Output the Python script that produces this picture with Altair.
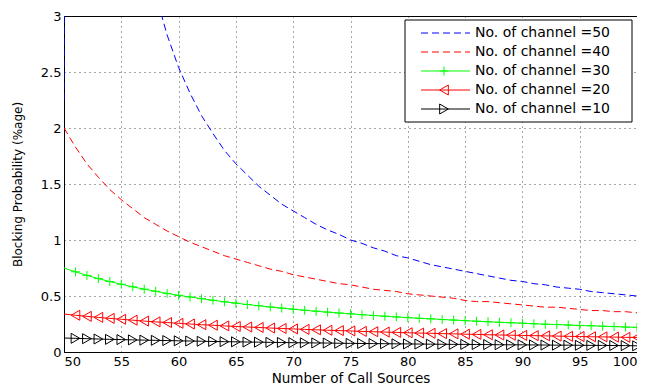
import altair as alt
import pandas as pd

x_sources = list(range(50, 101))

ch50 = [2.25, 31.1, 13.8, 8.9, 6.55, 5.19, 4.29, 3.66, 3.19, 2.83,
        2.54, 2.31, 2.11, 1.95, 1.80, 1.68, 1.58, 1.48, 1.40, 1.32,
        1.26, 1.20, 1.14, 1.09, 1.05, 1.00, 0.97, 0.93, 0.90, 0.86,
        0.84, 0.81, 0.78, 0.76, 0.74, 0.72, 0.70, 0.68, 0.66, 0.64,
        0.63, 0.61, 0.60, 0.58, 0.57, 0.56, 0.54, 0.53, 0.52, 0.51, 0.50]
ch40 = [2.00, 1.83, 1.68, 1.56, 1.45, 1.36, 1.28, 1.20, 1.14, 1.08,
        1.03, 0.98, 0.94, 0.90, 0.86, 0.83, 0.80, 0.77, 0.74, 0.72,
        0.69, 0.67, 0.65, 0.63, 0.61, 0.60, 0.58, 0.56, 0.55, 0.54,
        0.52, 0.51, 0.50, 0.49, 0.48, 0.46, 0.45, 0.45, 0.44, 0.43,
        0.42, 0.41, 0.40, 0.40, 0.39, 0.38, 0.37, 0.37, 0.36, 0.36, 0.35]
ch30 = [0.750, 0.716, 0.684, 0.655, 0.629, 0.605, 0.582, 0.561, 0.542, 0.523,
        0.506, 0.491, 0.476, 0.462, 0.448, 0.436, 0.424, 0.413, 0.402, 0.392,
        0.382, 0.373, 0.364, 0.356, 0.348, 0.341, 0.333, 0.326, 0.320, 0.313,
        0.307, 0.301, 0.296, 0.290, 0.285, 0.280, 0.275, 0.270, 0.265, 0.261,
        0.257, 0.252, 0.248, 0.245, 0.241, 0.237, 0.234, 0.230, 0.227, 0.223, 0.220]
ch20 = [0.339, 0.328, 0.318, 0.309, 0.300, 0.292, 0.284, 0.276, 0.269, 0.263,
        0.256, 0.250, 0.244, 0.239, 0.233, 0.228, 0.223, 0.219, 0.214, 0.210,
        0.206, 0.202, 0.198, 0.194, 0.191, 0.188, 0.184, 0.181, 0.178, 0.175,
        0.172, 0.169, 0.167, 0.164, 0.162, 0.159, 0.157, 0.154, 0.152, 0.150,
        0.148, 0.146, 0.144, 0.142, 0.140, 0.138, 0.136, 0.135, 0.133, 0.131, 0.130]
ch10 = [0.125, 0.122, 0.119, 0.116, 0.113, 0.111, 0.108, 0.106, 0.104, 0.102,
        0.100, 0.098, 0.096, 0.094, 0.092, 0.091, 0.089, 0.088, 0.086, 0.085,
        0.083, 0.082, 0.081, 0.080, 0.078, 0.077, 0.076, 0.075, 0.074, 0.073,
        0.072, 0.071, 0.070, 0.069, 0.068, 0.068, 0.067, 0.066, 0.065, 0.064,
        0.064, 0.063, 0.062, 0.061, 0.061, 0.060, 0.059, 0.059, 0.058, 0.057, 0.055]

labels = ["No. of channel =50", "No. of channel =40", "No. of channel =30",
          "No. of channel =20", "No. of channel =10"]
values = [ch50, ch40, ch30, ch20, ch10]
colors = ["#0000ff", "#ff0000", "#00ff00", "#ff0000", "#000000"]
dashes = [[7, 4], [7, 4], None, None, None]
shapes = [None, None, "M-1,0L1,0M0,-1L0,1", "triangle-left", "triangle-right"]
msizes = [0, 0, 80, 100, 100]

FONT = "DejaVu Sans"

x_enc = alt.X("x:Q", scale=alt.Scale(domain=[50, 100], nice=False),
              axis=alt.Axis(values=list(range(50, 101, 5)), title="Number of Call Sources",
                            grid=True, titleFontSize=13.5, titlePadding=3))
y_enc = alt.Y("y:Q", scale=alt.Scale(domain=[0, 3], nice=False),
              axis=alt.Axis(values=[0, 0.5, 1, 1.5, 2, 2.5, 3], format=".1~f",
                            title="Blocking Probability (%age)", grid=True, domain=False,
                            titleFontSize=12, titlePadding=16))

layers = []
for lab, vals, col, dash, shp, ms in zip(labels, values, colors, dashes, shapes, msizes):
    df = pd.DataFrame({"x": x_sources, "y": vals})
    mk = dict(clip=True, color=col, strokeWidth=1)
    if dash:
        mk["strokeDash"] = dash
    layers.append(alt.Chart(df).mark_line(**mk).encode(x=x_enc, y=y_enc))
    if shp:
        dfm = df[df["x"] >= 51]
        layers.append(alt.Chart(dfm).mark_point(shape=shp, filled=False, size=ms, color=col,
                                                 strokeWidth=1, opacity=1, clip=True)
                      .encode(x=x_enc, y=y_enc))

# legend box
leg_df = pd.DataFrame({"k": [0]})
layers.append(alt.Chart(leg_df).mark_rect(fill="white", stroke="black", strokeWidth=1)
              .encode(x=alt.value(341), x2=alt.value(568), y=alt.value(4), y2=alt.value(106)))
for i, (lab, col, dash, shp, ms) in enumerate(zip(labels, colors, dashes, shapes, msizes)):
    yy = 17 + i * 19
    rk = dict(color=col, strokeWidth=1)
    if dash:
        rk["strokeDash"] = dash
    layers.append(alt.Chart(leg_df).mark_rule(**rk)
                  .encode(x=alt.value(357), x2=alt.value(406), y=alt.value(yy)))
    if shp:
        layers.append(alt.Chart(leg_df).mark_point(shape=shp, filled=False, size=ms, color=col,
                                                    strokeWidth=1, opacity=1)
                      .encode(x=alt.value(380), y=alt.value(yy)))
    layers.append(alt.Chart(pd.DataFrame({"t": [lab]})).mark_text(
        align="left", baseline="middle", font=FONT, fontSize=14, color="black")
        .encode(x=alt.value(411), y=alt.value(yy), text="t:N"))

chart = alt.layer(*layers).properties(
    width=573, height=336,
    autosize=alt.AutoSizeParams(type="none"),
    padding={"left": 56, "top": 8, "right": 0, "bottom": 36},
).configure_view(stroke="black", strokeWidth=1).configure_axis(
    labelFont=FONT, labelFontSize=13, labelColor="black", labelPadding=3,
    titleFont=FONT, titleFontWeight="normal", titleColor="black",
    domainColor="black", tickSize=0,
    gridColor="black", gridDash=[1, 4], gridOpacity=0.7, gridWidth=1,
)

chart.save("out.html", embed_options={"renderer": "svg", "actions": False})
